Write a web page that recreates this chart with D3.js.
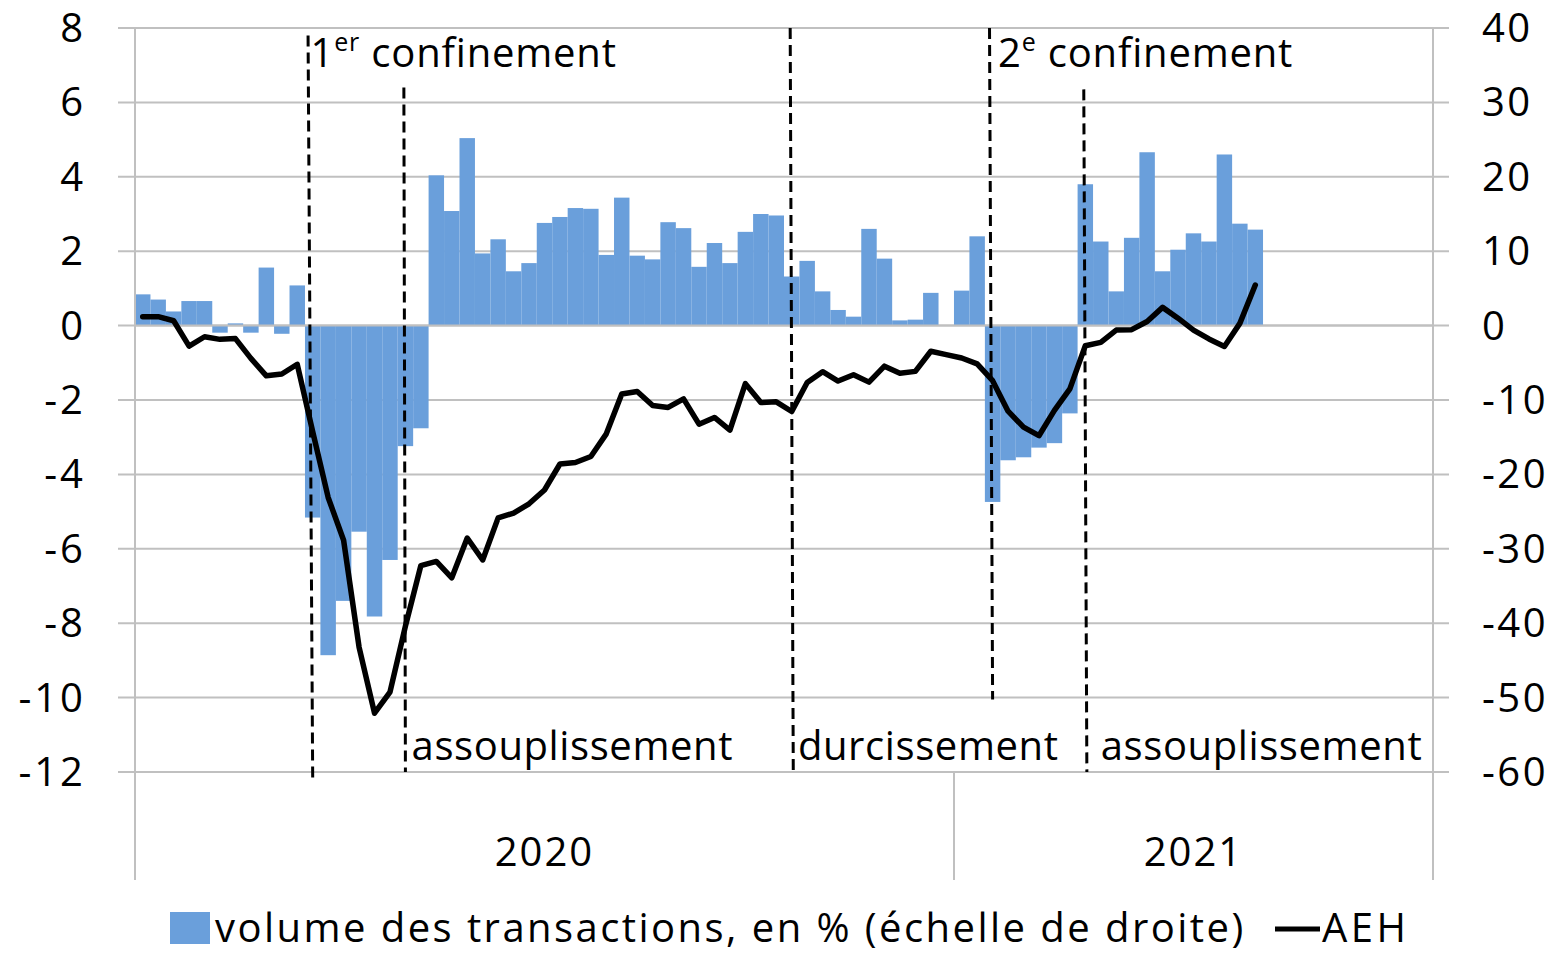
<!DOCTYPE html>
<html>
<head>
<meta charset="utf-8">
<script src="https://cdn.jsdelivr.net/npm/d3@7/dist/d3.min.js"></script>
<style>
  body { margin: 0; background: #fff; }
  svg text { font-family: "Open Sans", "Noto Sans", sans-serif; fill: #000; }
</style>
</head>
<body>
<div id="chart"></div>
<script>
// weeks per year on the category axis
var years = ["2020", "2021"];
var weeksPerYear = [53, 31];

// volume des transactions, en % (right axis)
var volume = [
    4.2, 3.5, 1.9, 3.3, 3.3, -0.95, 0.3, -0.95, 7.8, -1.1,
    5.4, -25.8, -44.3, -37.0, -27.7, -39.1, -31.5, -16.2, -13.8, 20.2,
    15.4, 25.2, 9.7, 11.6, 7.3, 8.4, 13.8, 14.6, 15.8, 15.7,
    9.5, 17.2, 9.4, 8.9, 13.9, 13.1, 7.9, 11.1, 8.4, 12.6,
    15.0, 14.8, 6.6, 8.7, 4.6, 2.1, 1.2, 13.0, 9.0, 0.7,
    0.8, 4.4, 0, 4.7, 12.0, -23.7, -18.1, -17.7, -16.4, -15.8,
    -11.8, 19.0, 11.3, 4.6, 11.8, 23.3, 7.3, 10.2, 12.4, 11.3,
    23.0, 13.7, 12.9
];

// AEH (left axis)
var aeh = [
    0.24, 0.24, 0.13, -0.55, -0.3, -0.37, -0.35, -0.88, -1.35, -1.3,
    -1.04, -2.85, -4.62, -5.77, -8.64, -10.42, -9.85, -8.08, -6.45, -6.34,
    -6.78, -5.71, -6.3, -5.17, -5.04, -4.79, -4.42, -3.72, -3.68, -3.52,
    -2.91, -1.84, -1.77, -2.15, -2.2, -1.97, -2.65, -2.47, -2.81, -1.56,
    -2.07, -2.05, -2.31, -1.53, -1.24, -1.49, -1.32, -1.52, -1.09, -1.28,
    -1.23, -0.69, -0.78, -0.87, -1.03, -1.48, -2.3, -2.73, -2.96, -2.28,
    -1.7, -0.54, -0.45, -0.12, -0.11, 0.11, 0.49, 0.2, -0.12, -0.36,
    -0.56, 0.06, 1.09
];

var leftTicks = [8, 6, 4, 2, 0, -2, -4, -6, -8, -10, -12];
var rightTicks = [40, 30, 20, 10, 0, -10, -20, -30, -40, -50, -60];

// period markers, in weeks from the start (y ends in left-axis units)
var markers = [
    {pos: 11.2, pos2: 11.5, from: 7.8, to: -12.2},
    {pos: 17.4, pos2: 17.5, from: 6.4, to: -12},
    {pos: 42.4, pos2: 42.6, from: 8, to: -12},
    {pos: 55.3, pos2: 55.5, from: 8, to: -10.05},
    {pos: 61.4, pos2: 61.6, from: 6.35, to: -12}
];

var categories = [];
years.forEach(function (y, k) {
    for (var w = 1; w <= weeksPerYear[k]; w++) categories.push(y + "-S" + w);
});

function draw() {
    var W = 1555, H = 953;
    var pLeft = 135, pRight = 1433, pTop = 28, pBottom = 772, axisBottom = 880;

    var svg = d3.select("#chart").append("svg")
        .attr("width", W)
        .attr("height", H);

    var x = d3.scaleBand().domain(categories).range([pLeft, pRight]).padding(0);
    var xw = d3.scaleLinear().domain([0, categories.length]).range([pLeft, pRight]);
    var yL = d3.scaleLinear().domain([-12, 8]).range([pBottom, pTop]);
    var yR = d3.scaleLinear().domain([-60, 40]).range([pBottom, pTop]);

    var grid = "#c0c0c0";
    var blue = "#6a9fdb";
    var fs = 40;

    // gridlines (with outer ticks on both sides)
    svg.append("g").selectAll("line")
        .data(leftTicks).enter().append("line")
        .attr("x1", pLeft - 17).attr("x2", pRight + 16)
        .attr("y1", function (d) { return yL(d); })
        .attr("y2", function (d) { return yL(d); })
        .attr("stroke", grid).attr("stroke-width", 2);

    // bars
    svg.append("g").selectAll("rect")
        .data(volume).enter().append("rect")
        .attr("x", function (d, i) { return x(categories[i]); })
        .attr("width", x.bandwidth())
        .attr("y", function (d) { return yR(Math.max(0, d)); })
        .attr("height", function (d) { return Math.abs(yR(d) - yR(0)); })
        .attr("fill", blue);

    // zero line over the bars
    svg.append("line")
        .attr("x1", pLeft).attr("x2", pRight)
        .attr("y1", yL(0)).attr("y2", yL(0))
        .attr("stroke", grid).attr("stroke-width", 2);

    // axis lines
    var yearEdges = [0, weeksPerYear[0], categories.length];
    [0, categories.length].forEach(function (e) {
        svg.append("line")
            .attr("x1", xw(e)).attr("x2", xw(e))
            .attr("y1", pTop).attr("y2", axisBottom)
            .attr("stroke", grid).attr("stroke-width", 2);
    });
    svg.append("line")
        .attr("x1", xw(weeksPerYear[0])).attr("x2", xw(weeksPerYear[0]))
        .attr("y1", pBottom).attr("y2", axisBottom)
        .attr("stroke", grid).attr("stroke-width", 2);

    // AEH line
    var line = d3.line()
        .x(function (d, i) { return x(categories[i]) + x.bandwidth() / 2; })
        .y(function (d) { return yL(d); });

    svg.append("path")
        .datum(aeh)
        .attr("d", line)
        .attr("fill", "none")
        .attr("stroke", "#000")
        .attr("stroke-width", 5.5)
        .attr("stroke-linejoin", "round")
        .attr("stroke-linecap", "round");

    // dashed markers
    svg.append("g").selectAll("line")
        .data(markers).enter().append("line")
        .attr("x1", function (d) { return xw(d.pos); })
        .attr("x2", function (d) { return xw(d.pos2); })
        .attr("y1", function (d) { return yL(d.from); })
        .attr("y2", function (d) { return yL(d.to); })
        .attr("stroke", "#000")
        .attr("stroke-width", 3)
        .attr("stroke-dasharray", "11,6");

    // left tick labels
    svg.append("g").selectAll("text")
        .data(leftTicks).enter().append("text")
        .attr("x", 86)
        .attr("y", function (d) { return yL(d) + 14; })
        .attr("text-anchor", "end")
        .style("font-size", fs + "px")
        .style("letter-spacing", "3px")
        .text(function (d) { return d; });

    // right tick labels
    svg.append("g").selectAll("text")
        .data(rightTicks).enter().append("text")
        .attr("x", 1482)
        .attr("y", function (d) { return yR(d) + 14; })
        .style("font-size", fs + "px")
        .style("letter-spacing", "2.5px")
        .text(function (d) { return d; });

    // year labels
    svg.append("g").selectAll("text")
        .data(years).enter().append("text")
        .attr("x", function (d, k) { return (xw(yearEdges[k]) + xw(yearEdges[k + 1])) / 2; })
        .attr("y", 866)
        .attr("text-anchor", "middle")
        .style("font-size", fs + "px")
        .style("letter-spacing", "2px")
        .text(function (d) { return d; });

    // annotations
    function sup(xp, num, s, rest) {
        var t = svg.append("text").attr("x", xp).attr("y", 67)
            .style("font-size", fs + "px").style("letter-spacing", "0.8px");
        t.append("tspan").text(num);
        t.append("tspan").attr("dy", -16).style("font-size", "25px").text(s);
        t.append("tspan").attr("dy", 16).text(" " + rest);
    }
    sup(xw(11.3) + 1, "1", "er", "confinement");
    sup(xw(55.4) + 7, "2", "e", "confinement");

    var bottomLabels = [
        {pos: 17.9, text: "assouplissement"},
        {pos: 42.9, text: "durcissement"},
        {pos: 62.5, text: "assouplissement"}
    ];
    svg.append("g").selectAll("text")
        .data(bottomLabels).enter().append("text")
        .attr("x", function (d) { return xw(d.pos); })
        .attr("y", 760)
        .style("font-size", fs + "px")
        .style("letter-spacing", "0.6px")
        .text(function (d) { return d.text; });

    // legend
    svg.append("rect")
        .attr("x", 170).attr("y", 912)
        .attr("width", 40).attr("height", 32)
        .attr("fill", blue);
    svg.append("text")
        .attr("x", 215).attr("y", 942)
        .style("font-size", fs + "px")
        .style("letter-spacing", "2.45px")
        .text("volume des transactions, en % (échelle de droite)");
    svg.append("line")
        .attr("x1", 1275).attr("x2", 1320)
        .attr("y1", 929).attr("y2", 929)
        .attr("stroke", "#000").attr("stroke-width", 5);
    svg.append("text")
        .attr("x", 1322).attr("y", 942)
        .style("font-size", fs + "px")
        .style("letter-spacing", "3.5px")
        .text("AEH");
}

draw();
</script>
</body>
</html>
